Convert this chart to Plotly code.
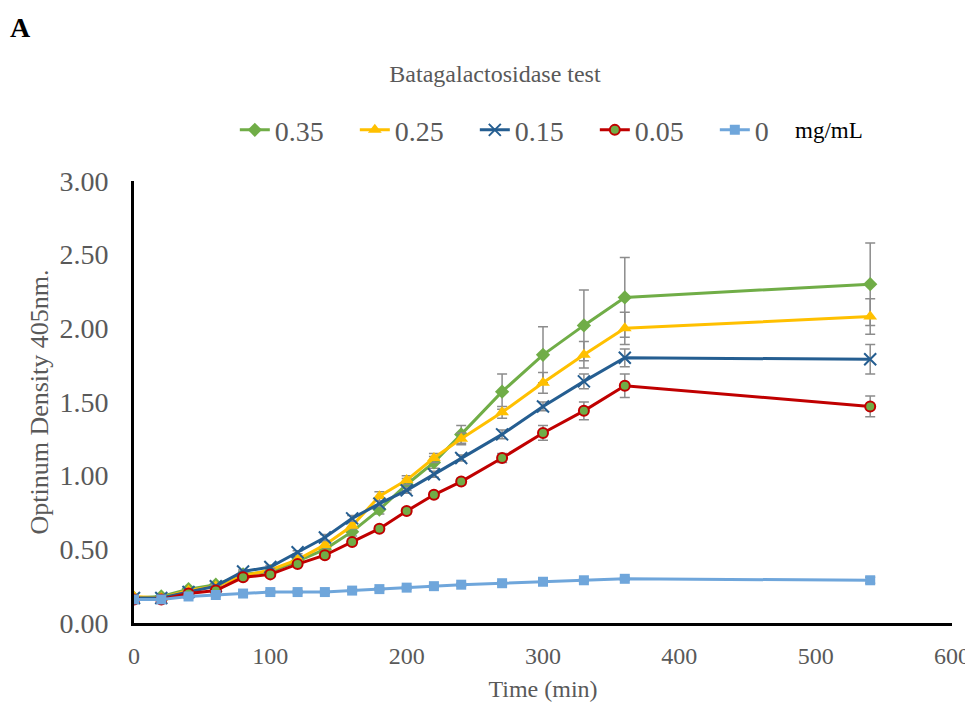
import plotly.graph_objects as go

time_min = [0, 20, 40, 60, 80, 100, 120, 140, 160, 180, 200, 220, 240, 270, 300, 330, 360, 540]

od_035 = [0.17, 0.18, 0.23, 0.26, 0.33, 0.35, 0.42, 0.50, 0.62, 0.77, 0.94, 1.09, 1.28, 1.57, 1.82, 2.02, 2.21, 2.30]
err_035 = [0.01, 0.01, 0.01, 0.01, 0.02, 0.02, 0.02, 0.02, 0.03, 0.03, 0.04, 0.04, 0.06, 0.12, 0.19, 0.24, 0.27, 0.28]

od_025 = [0.18, 0.17, 0.22, 0.25, 0.32, 0.36, 0.43, 0.53, 0.66, 0.86, 0.97, 1.12, 1.25, 1.43, 1.63, 1.82, 2.00, 2.08]
err_025 = [0.01, 0.01, 0.01, 0.01, 0.01, 0.01, 0.02, 0.02, 0.02, 0.03, 0.03, 0.03, 0.04, 0.04, 0.07, 0.09, 0.11, 0.12]

od_015 = [0.17, 0.17, 0.21, 0.25, 0.35, 0.38, 0.48, 0.58, 0.71, 0.81, 0.90, 1.01, 1.12, 1.28, 1.47, 1.64, 1.80, 1.79]
err_015 = [0.01, 0.01, 0.01, 0.01, 0.01, 0.01, 0.01, 0.02, 0.02, 0.02, 0.02, 0.02, 0.02, 0.03, 0.03, 0.05, 0.06, 0.10]

od_005 = [0.16, 0.16, 0.20, 0.22, 0.31, 0.33, 0.40, 0.46, 0.55, 0.64, 0.76, 0.87, 0.96, 1.12, 1.29, 1.44, 1.61, 1.47]
err_005 = [0.01, 0.01, 0.01, 0.01, 0.01, 0.01, 0.01, 0.01, 0.02, 0.02, 0.02, 0.02, 0.02, 0.03, 0.05, 0.06, 0.08, 0.07]

od_0 = [0.16, 0.16, 0.18, 0.19, 0.20, 0.21, 0.21, 0.21, 0.22, 0.23, 0.24, 0.25, 0.26, 0.27, 0.28, 0.29, 0.30, 0.29]
err_0 = [0.01, 0.01, 0.01, 0.01, 0.01, 0.01, 0.01, 0.01, 0.01, 0.01, 0.01, 0.01, 0.01, 0.01, 0.01, 0.01, 0.01, 0.02]

series_names = ["0.35", "0.25", "0.15", "0.05", "0"]
x_ticks = [0, 100, 200, 300, 400, 500, 600]
y_ticks = [0.0, 0.5, 1.0, 1.5, 2.0, 2.5, 3.0]

SERIF = "Liberation Serif, Times New Roman, serif"
GRAY = "#595959"

styles = [
    dict(color="#70AD47", marker=dict(symbol="diamond", size=11, color="#70AD47")),
    dict(color="#FFC000", marker=dict(symbol="triangle-up", size=12, color="#FFC000")),
    dict(color="#255E91", marker=dict(symbol="x-thin", size=12, color="#255E91",
                                      line=dict(width=2, color="#255E91"))),
    dict(color="#C00000", marker=dict(symbol="circle", size=10, color="#70AD47",
                                      line=dict(width=2, color="#C00000"))),
    dict(color="#6FA6DB", marker=dict(symbol="square", size=10, color="#6FA6DB")),
]

fig = go.Figure()
for name, ys, es, st in zip(series_names,
                            [od_035, od_025, od_015, od_005, od_0],
                            [err_035, err_025, err_015, err_005, err_0],
                            styles):
    fig.add_trace(go.Scatter(
        x=time_min, y=ys, name=name, mode="lines+markers",
        line=dict(color=st["color"], width=3),
        marker=st["marker"],
        error_y=dict(type="data", array=es, visible=True, color="#8C8C8C",
                     thickness=1.5, width=5),
    ))

W, H = 965, 701
fig.update_layout(
    width=W, height=H,
    margin=dict(l=126, r=21, t=173, b=86, autoexpand=False),
    paper_bgcolor="white", plot_bgcolor="white",
    font=dict(family=SERIF, color=GRAY),
    title=dict(text="Batagalactosidase test", x=487 / W, xanchor="center",
               y=1 - 66 / H, yanchor="middle",
               font=dict(family=SERIF, size=24, color=GRAY)),
    showlegend=True,
    legend=dict(orientation="h", x=0.49, xanchor="center", y=1.115, yanchor="middle",
                font=dict(family=SERIF, size=28, color=GRAY),
                entrywidth=75, itemwidth=30, bgcolor="rgba(0,0,0,0)"),
    xaxis=dict(range=[0, 600], tickvals=x_ticks, ticktext=[str(v) for v in x_ticks],
               automargin=False,
               showgrid=False, zeroline=False, showline=True, linecolor="black",
               linewidth=3, ticks="", ticklabelstandoff=9,
               tickfont=dict(family=SERIF, size=24, color=GRAY),
               title=dict(text="Time (min)", standoff=13,
                          font=dict(family=SERIF, size=24, color=GRAY))),
    yaxis=dict(range=[0, 3.0], tickvals=y_ticks, ticktext=[f"{v:.2f}" for v in y_ticks],
               automargin=False,
               showgrid=False, zeroline=False, showline=True, linecolor="black",
               linewidth=3, ticks="", ticklabelstandoff=17,
               tickfont=dict(family=SERIF, size=28, color=GRAY),
               title=dict(text="Optinum Density 405nm.", standoff=4,
                          font=dict(family=SERIF, size=26, color=GRAY))),
    annotations=[
        dict(text="<b>A</b>", xref="paper", yref="paper", x=(20 - 134) / 818, y=(623 - 10) / 442,
             xanchor="center", yanchor="top", showarrow=False,
             font=dict(family=SERIF, size=28, color="black")),
        dict(text="mg/mL", xref="paper", yref="paper", x=(793 - 134) / 818, y=1.115,
             xanchor="left", yanchor="middle", showarrow=False,
             font=dict(family=SERIF, size=23, color="black")),
    ],
)

fig.write_html("out.html")
